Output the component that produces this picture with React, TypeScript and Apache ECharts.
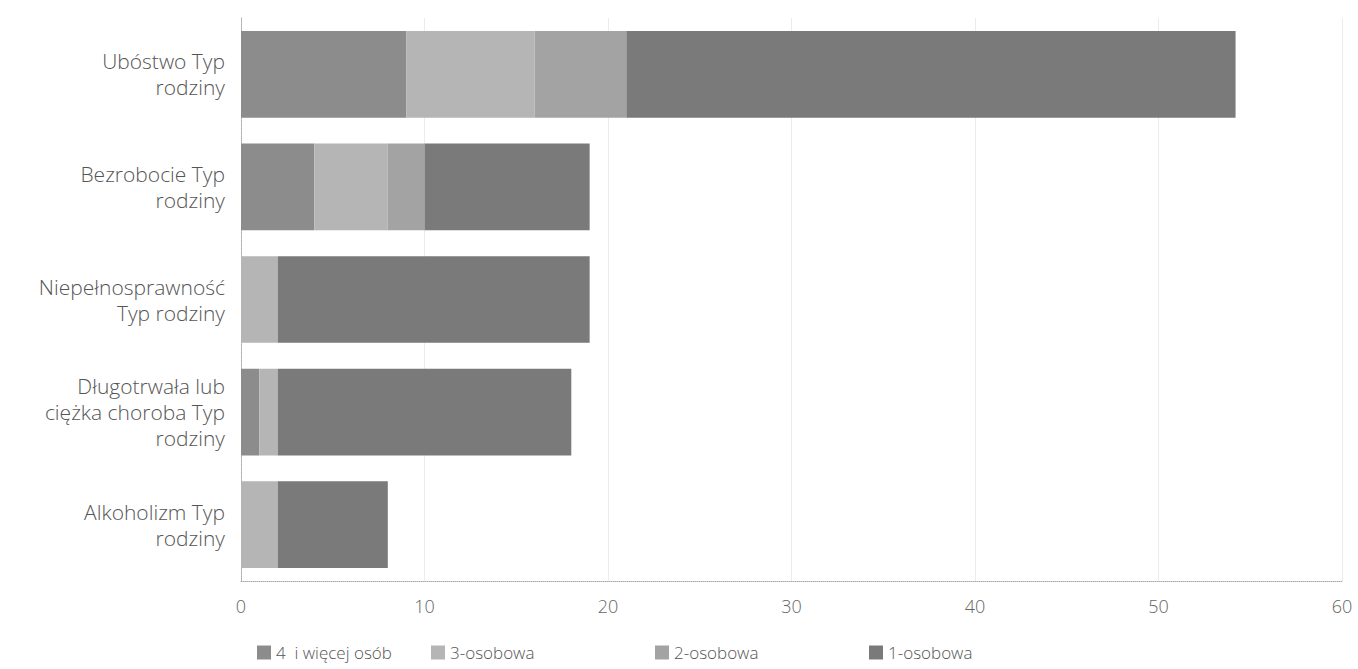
import React, { useEffect, useRef } from "react";
import * as echarts from "echarts";

const categories = [
  "Ubóstwo Typ\nrodziny",
  "Bezrobocie Typ\nrodziny",
  "Niepełnosprawność\nTyp rodziny",
  "Długotrwała lub\nciężka choroba Typ\nrodziny",
  "Alkoholizm Typ\nrodziny",
];
const seriesNames = ["4  i więcej osób", "3-osobowa", "2-osobowa", "1-osobowa"];
const fourPlus = [9, 4, 0, 1, 0];
const three = [7, 4, 2, 1, 2];
const two = [5, 2, 0, 0, 0];
const one = [33.2, 9, 17, 16, 6];
const xTicks = [0, 10, 20, 30, 40, 50, 60];

const colors = ["#8c8c8c", "#b5b5b5", "#a3a3a3", "#7a7a7a"];
const legendLefts = [252, 426, 650, 864];

export default function App() {
  const ref = useRef<HTMLDivElement>(null);
  useEffect(() => {
    if (!ref.current) return;
    const chart = echarts.init(ref.current, undefined, { renderer: "svg" });
    const data = [fourPlus, three, two, one];
    chart.setOption({
      animation: false,
      textStyle: { fontFamily: "Open Sans" },
      grid: { left: 241, right: 16, top: 18, bottom: 88, containLabel: false },
      xAxis: {
        type: "value",
        min: xTicks[0],
        max: xTicks[xTicks.length - 1],
        interval: 10,
        axisLine: { show: true, lineStyle: { color: "#aaa", type: "dotted" } },
        axisTick: { show: false },
        splitLine: { show: true, lineStyle: { color: "#ececec", type: "solid" } },
        axisLabel: { fontSize: 18, color: "#666", margin: 16, fontFamily: "Open Sans", fontWeight: 300 },
      },
      yAxis: {
        type: "category",
        inverse: true,
        data: categories,
        axisLine: { show: true, lineStyle: { color: "#aaa", type: "dotted" } },
        axisTick: { show: false },
        axisLabel: {
          fontSize: 21,
          color: "#555",
          margin: 16,
          lineHeight: 26,
          align: "right",
          fontFamily: "Open Sans",
          fontWeight: 300,
        },
      },
      legend: seriesNames.map((n, i) => ({
        data: [n],
        left: legendLefts[i],
        top: 642,
        itemWidth: 14,
        itemHeight: 14,
        icon: "rect",
        padding: [2, 5, 2, 5],
        textStyle: { fontSize: 17, color: "#555", fontFamily: "Open Sans", fontWeight: 300 },
      })),
      series: seriesNames.map((n, i) => ({
        name: n,
        type: "bar",
        stack: "total",
        barWidth: "77%",
        itemStyle: { color: colors[i] },
        data: data[i],
      })),
    });
    return () => chart.dispose();
  }, []);
  return <div ref={ref} style={{ width: 1358, height: 669, position: "absolute", left: 0, top: 0 }} />;
}
